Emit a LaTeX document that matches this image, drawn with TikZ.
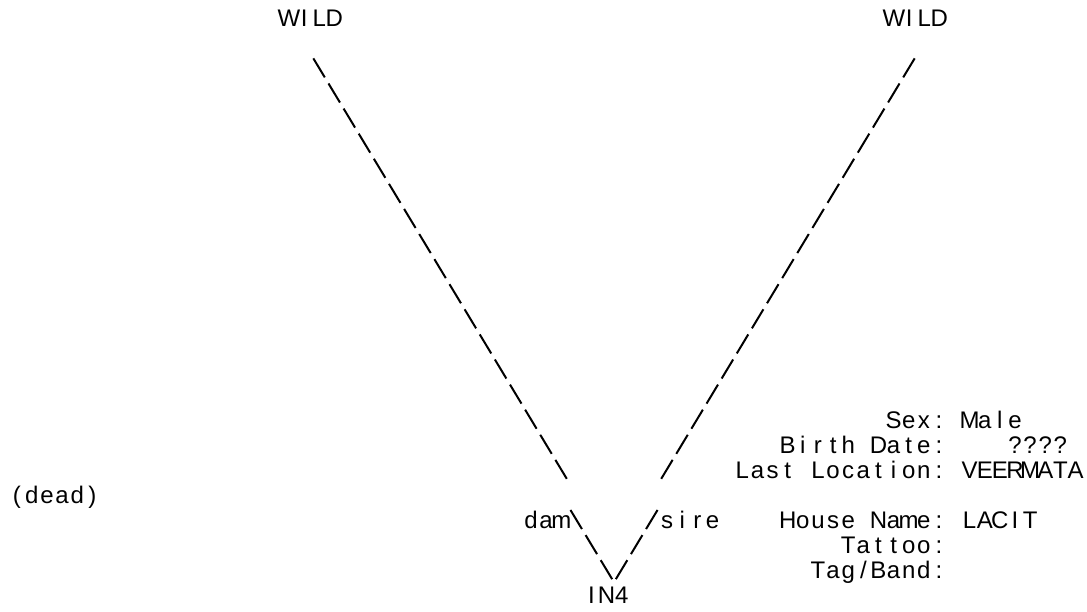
\documentclass[tikz,border=0pt]{standalone}
\usepackage{fontspec}
\setmainfont{Liberation Sans}
\usetikzlibrary{positioning}

% one character per fixed cell, as in a terminal print
\newlength\cellw
\setlength\cellw{15.125pt}
\newcommand\monogap{}
\ExplSyntaxOn
\tl_new:N \l_ped_text_tl
\NewDocumentCommand \mono { m }
  {
    \tl_set:Nn \l_ped_text_tl {#1}
    \tl_replace_all:Nnn \l_ped_text_tl { ~ } { \monogap }
    \tl_map_inline:Nn \l_ped_text_tl { \makebox[\cellw][c]{##1} }
  }
\ExplSyntaxOff

\begin{document}
\begin{tikzpicture}[
  x=15.125pt, y=-25.09pt,
  lbl/.style={inner sep=0pt, anchor=base west, font=\fontsize{24}{24}\selectfont},
  fld/.style={lbl, anchor=base east},
  val/.style={lbl},
  link/.style={line width=2pt, dash pattern=on 22.2pt off 7.1pt},
]
\useasboundingbox (-0.595,-1.064) rectangle (71.273,23.328);

% Parents
\node[lbl] (wildl) at (18,0) {\mono{WILD}};
\node[lbl] (wildr) at (58,0) {\mono{WILD}};

% Animal
\node[lbl] (in4) at (38,23) {\mono{IN4}};
\node[lbl] (dead) at (0,19) {\mono{(dead)}};
\node[lbl] (dam) at (34,20) {\mono{dam}};
\node[lbl] (sire) at (43,20) {\mono{sire}};

% Dam line
\coordinate (damhi) at (20.122,1.263);
\coordinate (damkink) at (36.878,18.019);
\coordinate (damlo) at (37.122,19.263);
\coordinate (dambot) at (39.878,22.019);
\draw[link] (damhi) -- (damkink);
\draw[link] (damlo) -- (dambot);

% Sire line
\coordinate (sirehi) at (59.878,1.263);
\coordinate (sirekink) at (43.122,18.019);
\coordinate (sirelo) at (42.878,19.263);
\coordinate (sirebot) at (40.122,22.019);
\draw[link] (sirehi) -- (sirekink);
\draw[link] (sirelo) -- (sirebot);

% Record fields
\node[fld] (sexk) at (62,16) {\mono{Sex:}};
\node[val] (sexv) at (63,16) {\mono{Male}};
\node[fld] (birthk) at (62,17) {\mono{Birth Date:}};
\node[val] (birthv) at (66,17) {\mono{????}};
\node[fld] (lastk) at (62,18) {\mono{Last Location:}};
\node[val] (lastv) at (63,18) {\mono{VEERMATA}};
\node[fld] (housek) at (62,20) {\mono{House Name:}};
\node[val] (housev) at (63,20) {\mono{LACIT}};
\node[fld] (tattook) at (62,21) {\mono{Tattoo:}};
\node[fld] (tagk) at (62,22) {\mono{Tag/Band:}};

\end{tikzpicture}
\end{document}
